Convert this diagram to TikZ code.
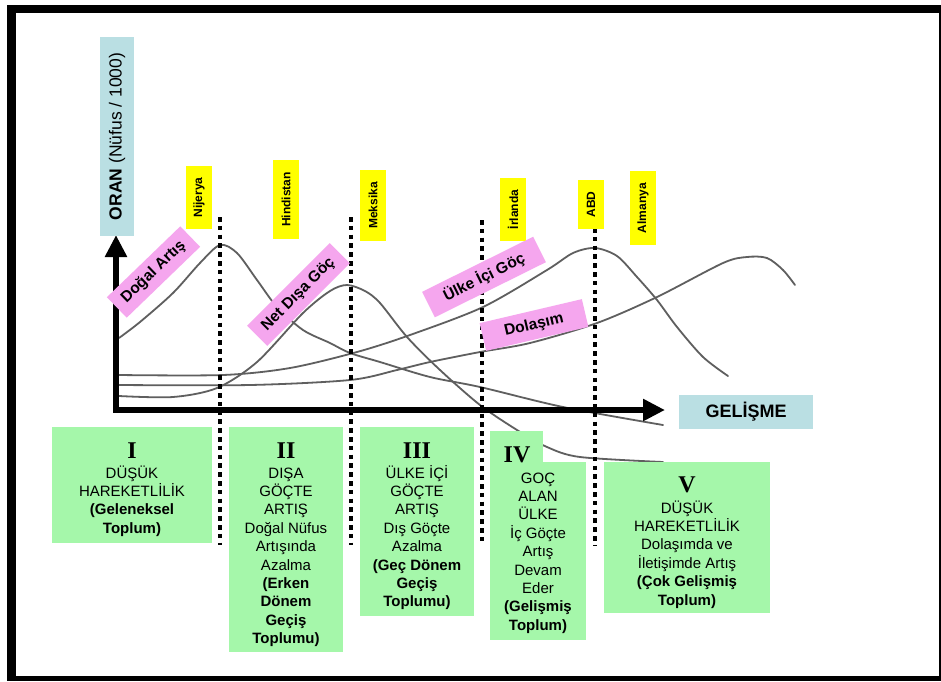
\documentclass[tikz,border=0pt]{standalone}
\usepackage{fontspec}
\setmainfont{Liberation Sans}
\newfontfamily\romanfont{Liberation Serif}
\usetikzlibrary{arrows.meta}

\definecolor{axisblue}{RGB}{186,223,227}
\definecolor{tagyellow}{RGB}{255,255,0}
\definecolor{flowpink}{RGB}{245,166,238}
\definecolor{stagegreen}{RGB}{165,247,170}
\definecolor{curvegray}{RGB}{95,95,95}

\begin{document}
\begin{tikzpicture}[x=1pt,y=-1pt,
  curve/.style={curvegray, line width=1.8pt, line cap=round, line join=round},
  divider/.style={line width=4.6pt, dash pattern=on 4.6pt off 4.2pt},
  axis/.style={line width=6.5pt, line join=miter,
    {Triangle[length=22pt,width=21pt]}-{Triangle[length=22pt,width=21pt]}},
  tag/.style={fill=tagyellow, rotate=90, minimum height=26pt, inner sep=0pt,
    font=\fontsize{12}{14}\selectfont\bfseries},
  flow/.style={fill=flowpink, inner sep=0pt, minimum height=28.5pt,
    font=\fontsize{15.5}{18}\selectfont\bfseries},
  axislabel/.style={fill=axisblue, inner sep=0pt},
  stage/.style={fill=stagegreen, inner sep=0pt, anchor=north west},
  numeral/.style={font=\fontsize{24}{26}\romanfont\bfseries, anchor=base, inner sep=0pt},
  % anchored at the baseline of the last line
  stagetext/.style={font=\fontsize{15}{18.4}\selectfont, align=center, anchor=base, inner sep=0pt},
]
\useasboundingbox (0,0) rectangle (941,681);

% outer frame
\fill[black] (7,4.5) rectangle (941,681);
\fill[white] (16,13) rectangle (939,676);

% rate curves
% natural increase
\draw[curve] plot[smooth] coordinates {(119,338) (140,322) (173,293) (200,263) (220,245) (237,253)
  (257,280) (277,307) (303,330) (330,343) (350,353) (380,362) (430,377) (480,387) (563,407) (663,425)};
% net emigration
\draw[curve] plot[smooth] coordinates {(119,396) (173,397) (217,388) (257,362) (303,313) (330,291)
  (347,285) (365,291) (380,303) (407,337) (440,370) (480,405) (517,430) (547,447) (580,457) (663,462)};
% internal migration
\draw[curve] plot[smooth] coordinates {(119,375) (223,375) (290,368) (357,352) (410,335) (483,307)
  (547,270) (573,253) (595,248) (617,256) (637,277) (657,300) (677,327) (703,357) (728,376)};
% circulation
\draw[curve] plot[smooth] coordinates {(119,385) (250,385) (350,380) (397,370) (430,362) (480,352)
  (530,343) (597,323) (657,297) (723,263) (747,257) (767,258) (783,270) (795,285)};

% stage dividers
\coordinate (d1t) at (220,217); \coordinate (d1b) at (220,545);
\coordinate (d2t) at (351,217); \coordinate (d2b) at (351,545);
\coordinate (d3t) at (482,220); \coordinate (d3b) at (482,545);
\coordinate (d4t) at (595,228); \coordinate (d4b) at (595,545);
\draw[divider] (d1t) -- (d1b);
\draw[divider] (d2t) -- (d2b);
\draw[divider] (d3t) -- (d3b);
\draw[divider] (d4t) -- (d4b);

% axes
\coordinate (ytip) at (116,235);
\coordinate (origin) at (116,410);
\coordinate (xtip) at (665,410);
\draw[axis] (ytip) -- (origin) -- (xtip);

% axis labels
\node[axislabel, rotate=90, minimum width=199pt, minimum height=34pt,
  font=\fontsize{17.5}{20}\selectfont] (rate) at (117,136.5) {\textbf{ORAN} (Nüfus / 1000)};
\node[axislabel, minimum width=134pt, minimum height=34pt,
  font=\fontsize{18}{20}\selectfont\bfseries] (development) at (746,412) {GELİŞME};

% country tags
\node[tag, minimum width=63pt] (nigeria) at (199,197.5) {Nijerya};
\node[tag, minimum width=79pt] (india) at (286,199.5) {Hindistan};
\node[tag, minimum width=71pt] (mexico) at (373,205.5) {Meksika};
\node[tag, minimum width=63pt] (ireland) at (513,209.5) {İrlanda};
\node[tag, minimum width=49pt] (usa) at (591,204.5) {ABD};
\node[tag, minimum width=74pt] (germany) at (643,208) {Almanya};

% curve labels
\node[flow, rotate=44, minimum width=102pt] (natural) at (153.5,272) {Doğal Artış};
\node[flow, rotate=45, minimum width=117pt] (emigration) at (298.5,294.5) {Net Dışa Göç};
\node[flow, rotate=26.4, minimum width=124pt] (internal) at (484,277) {Ülke İçi Göç};
\node[flow, rotate=13.2, minimum width=105pt] (circulation) at (534,325) {Dolaşım};

% stage boxes
\node[stage, minimum width=160pt, minimum height=116pt] (s1) at (52,427) {};
\node[stage, minimum width=114pt, minimum height=225pt] (s2) at (229,427) {};
\node[stage, minimum width=114pt, minimum height=189pt] (s3) at (360,427) {};
\node[stage, minimum width=53pt, minimum height=32pt] (s4tab) at (490,431) {};
\node[stage, minimum width=96pt, minimum height=178pt] (s4) at (490,462) {};
\node[stage, minimum width=166pt, minimum height=151pt] (s5) at (604,462) {};

% stage texts
\node[numeral] (n1) at (132,458) {I};
\node[stagetext] (t1) at (132,533.2) {DÜŞÜK\\HAREKETLİLİK\\\textbf{(Geleneksel}\\\textbf{Toplum)}};

\node[numeral] (n2) at (286,458) {II};
\node[stagetext] (t2) at (286,643.6) {DIŞA\\GÖÇTE\\ARTIŞ\\Doğal Nüfus\\Artışında\\Azalma\\
  \textbf{(Erken}\\\textbf{Dönem}\\\textbf{Geçiş}\\\textbf{Toplumu)}};

\node[numeral] (n3) at (417,458) {III};
\node[stagetext] (t3) at (417,606.8) {ÜLKE İÇİ\\GÖÇTE\\ARTIŞ\\Dış Göçte\\Azalma\\
  \textbf{(Geç Dönem}\\\textbf{Geçiş}\\\textbf{Toplumu)}};

\node[numeral] (n4) at (517,462) {IV};
\node[stagetext] (t4) at (538,630.2) {GOÇ\\ALAN\\ÜLKE\\İç Göçte\\Artış\\Devam\\Eder\\
  \textbf{(Gelişmiş}\\\textbf{Toplum)}};

\node[numeral] (n5) at (687,492) {V};
\node[stagetext] (t5) at (687,605) {DÜŞÜK\\HAREKETLİLİK\\Dolaşımda ve\\İletişimde Artış\\
  \textbf{(Çok Gelişmiş}\\\textbf{Toplum)}};
\end{tikzpicture}
\end{document}
